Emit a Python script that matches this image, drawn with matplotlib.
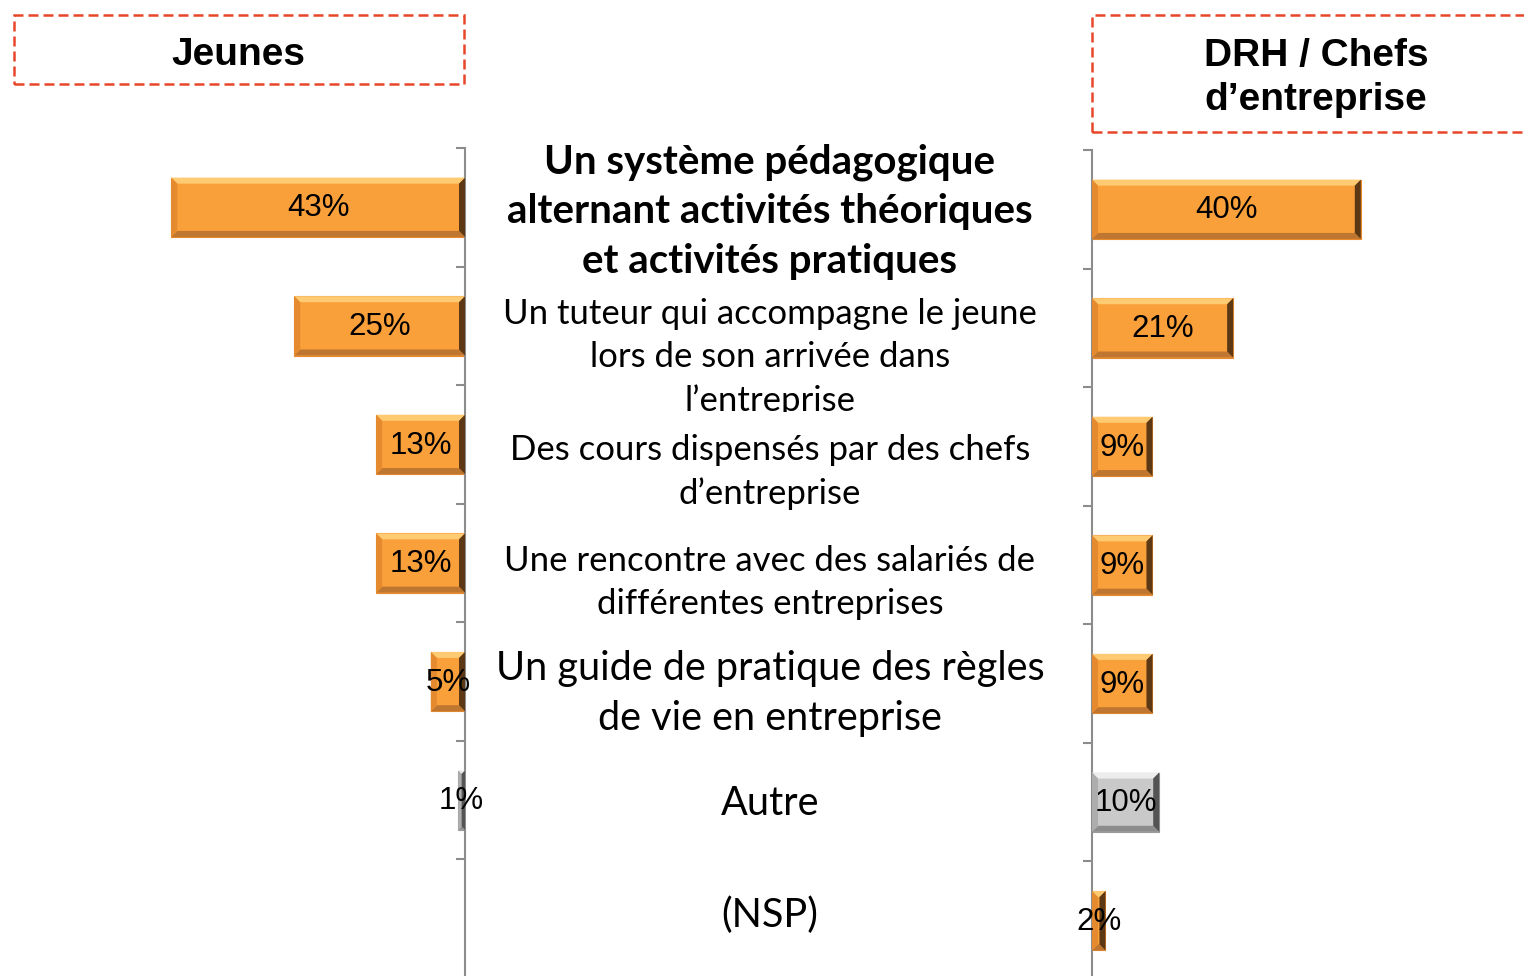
import numpy as np
import matplotlib.pyplot as plt
from matplotlib.patches import Polygon, Rectangle
from matplotlib.transforms import IdentityTransform, Bbox, blended_transform_factory

# data
categories = [
    "Un système pédagogique\nalternant activités théoriques\net activités pratiques",
    "Un tuteur qui accompagne le jeune\nlors de son arrivée dans\nl\u2019entreprise",
    "Des cours dispensés par des chefs\nd\u2019entreprise",
    "Une rencontre avec des salariés de\ndifférentes entreprises",
    "Un guide de pratique des règles\nde vie en entreprise",
    "Autre",
    "(NSP)",
]
jeunes = [43, 25, 13, 13, 5, 1, np.nan]
drh = [40, 21, 9, 9, 9, 10, 2]
bar_style = ["orange", "orange", "orange", "orange", "orange", "gray", "orange"]
headers = ["Jeunes", "DRH / Chefs\nd\u2019entreprise"]

# look
W, H = 1524, 976
COLORS = {
    "orange": dict(face="#FAA03A", top="#FFCB72", bottom="#BF7630", left="#E58A2E", right="#5C3814", edge="#E88A2C"),
    "gray": dict(face="#C9C9C9", top="#EDEDED", bottom="#8C8C8C", left="#ADADAD", right="#545454", edge="#9A9A9A"),
}
label_size = [29, 25, 25, 25, 28.5, 28.5, 28.5]
label_weight = ["bold"] + ["normal"] * 6
label_dy = [0.035, 0.27, 0.235, 0.165, 0.10, 0.03, -0.03]
SPINE = "#8C8C8C"
BOXRED = "#E8462A"

fig = plt.figure(figsize=(W / 100, H / 100), dpi=100)


def px_axes(x0, y_top, w, h):
    return fig.add_axes([x0 / W, 1 - (y_top + h) / H, w / W, h / H])


axL = px_axes(0, 148, 465, 830)
axR = px_axes(1092, 150, 432, 830)
axL.set_xlim(465 / 6.83, 0)
axR.set_xlim(0, 432 / 6.72)

for ax in (axL, axR):
    ax.set_ylim(len(categories) - 0.5, -0.5)
    ax.set_yticks(np.arange(-0.5, len(categories), 1))
    ax.set_yticklabels([])
    ax.set_xticks([])
    ax.patch.set_alpha(0)
    for s in ax.spines.values():
        s.set_visible(False)
    ax.tick_params(axis="y", length=6.5, width=1.5, color=SPINE)

axL.spines["right"].set_visible(True)
axL.spines["right"].set_color(SPINE)
axL.spines["right"].set_linewidth(1.5)
axL.yaxis.tick_right()
axL.tick_params(axis="y", direction="in")
axR.spines["left"].set_visible(True)
axR.spines["left"].set_color(SPINE)
axR.spines["left"].set_linewidth(1.5)
axR.tick_params(axis="y", direction="out")


def bevel(ax, rect, c, b=6):
    bb = rect.get_window_extent()
    x0, y0, x1, y1 = bb.x0, bb.y0, bb.x1, bb.y1
    b = min(b, (x1 - x0) / 2, (y1 - y0) / 2)
    bands = [
        ([(x0, y1), (x1, y1), (x1 - b, y1 - b), (x0 + b, y1 - b)], c["top"]),
        ([(x0, y0), (x1, y0), (x1 - b, y0 + b), (x0 + b, y0 + b)], c["bottom"]),
        ([(x0, y0), (x0 + b, y0 + b), (x0 + b, y1 - b), (x0, y1)], c["left"]),
        ([(x1, y0), (x1 - b, y0 + b), (x1 - b, y1 - b), (x1, y1)], c["right"]),
    ]
    for pts, col in bands:
        p = Polygon(pts, closed=True, facecolor=col, edgecolor="none",
                    transform=IdentityTransform(), zorder=3)
        ax.add_artist(p)


for ax, values in ((axL, jeunes), (axR, drh)):
    for i, v in enumerate(values):
        if np.isnan(v):
            continue
        c = COLORS[bar_style[i]]
        rect = ax.barh(i, v, height=0.5, color=c["face"], edgecolor=c["edge"],
                       linewidth=0.8, zorder=2)[0]
        bevel(ax, rect, c)
        ax.text(v / 2, i + 0.01, f"{v:g}%", ha="center", va="center", fontsize=22.5,
                family="Liberation Sans", color="black", zorder=6)

# middle labels
mid = blended_transform_factory(fig.transFigure, axL.transData)
for i, lab in enumerate(categories):
    t = fig.text(770 / W, i + label_dy[i], lab, transform=mid, ha="center",
                 va="center", family="Lato", fontsize=label_size[i],
                 fontweight=label_weight[i], linespacing=1.42)
    if i == 1:
        # the third line is cut off by the next text box in the original
        ycut = axL.transData.transform((0, 1.727))[1]
        t.set_clip_box(Bbox([[0, ycut], [W, H]]))
        t.set_clip_on(True)

# header boxes
for (x0, y0, w, h) in [(14, 15, 450, 69), (1092, 15, 440, 117)]:
    fig.add_artist(Rectangle((x0 / W, 1 - (y0 + h) / H), w / W, h / H,
                             transform=fig.transFigure, fill=False,
                             edgecolor=BOXRED, linewidth=1.8,
                             linestyle=(0, (4, 2))))
fig.text(238 / W, 1 - 55 / H, headers[0], ha="center", va="center",
         fontsize=28, fontweight="bold", family="Liberation Sans")
fig.text(1316 / W, 1 - 78 / H, headers[1], ha="center", va="center",
         fontsize=28, fontweight="bold", family="Liberation Sans",
         linespacing=1.32)

fig.savefig("out.png", dpi=100)
